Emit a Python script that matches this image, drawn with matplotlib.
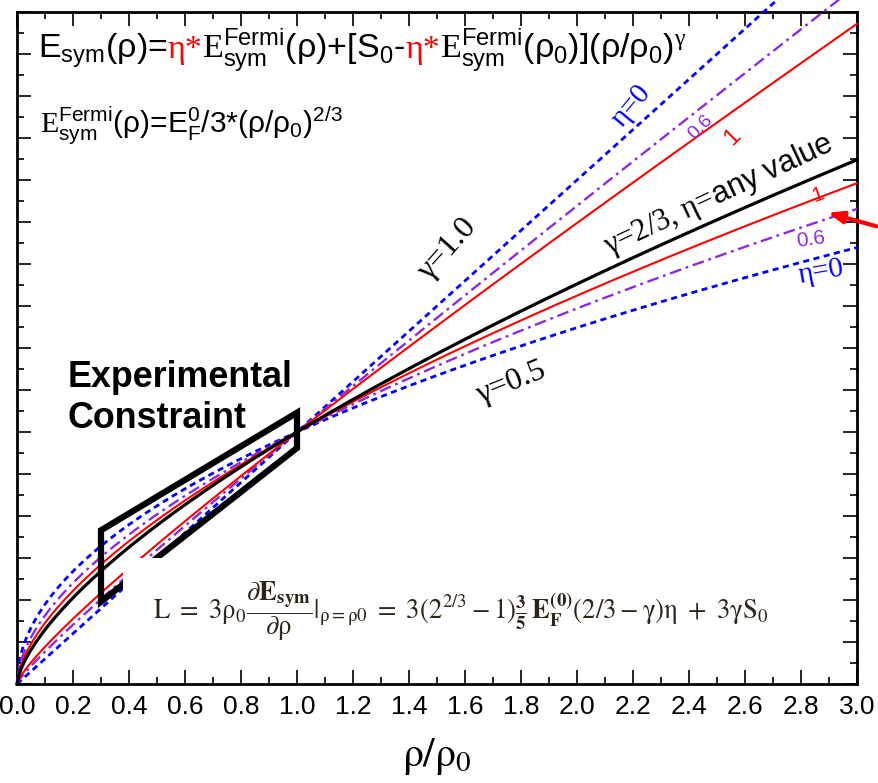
import numpy as np
import matplotlib
matplotlib.use('Agg')
import matplotlib.pyplot as plt
from matplotlib.ticker import MultipleLocator, FormatStrFormatter
from matplotlib.patches import Polygon, Rectangle

plt.rcParams['font.family'] = ['Liberation Sans', 'DejaVu Sans']
plt.rcParams['mathtext.fontset'] = 'custom'
plt.rcParams['mathtext.rm'] = 'Liberation Sans'
plt.rcParams['mathtext.it'] = 'Liberation Sans:italic'
plt.rcParams['mathtext.bf'] = 'Liberation Sans:bold'
plt.rcParams['mathtext.sf'] = 'Liberation Serif'

# symmetry energy model parameters (MeV)
S0 = 30.0
gammas = [1.0, 0.5]
fermi_strength = [12.4, 22.0]     # eta*E_F/3 amplitude used for each gamma family
etas = [0.0, 0.6, 1.0]
eta_colors = ['#0000ff', '#8a2be2', '#ff0000']
eta_styles = [(0, (2.2, 1.6)), (0, (5, 2, 1.2, 2)), '-']
eta_widths = [2.0, 1.7, 1.5]
gamma_ref = 2.0 / 3.0

# experimental constraint region (rho/rho0, MeV)
box_x = [0.3, 1.0, 1.0, 0.3]
box_y = [18.3, 32.3, 28.1, 9.8]

u = np.linspace(0.0, 3.0, 400)


def esym(u, gamma, eta, fs):
    return eta * fs * u ** (2.0 / 3.0) + (S0 - eta * fs) * u ** gamma


fig = plt.figure(figsize=(8.79, 7.83), dpi=100)
ax = fig.add_axes([17 / 879, 99 / 783, 840 / 879, 672 / 783])

for gamma, fs in zip(gammas, fermi_strength):
    for eta, c, ls, lw in zip(etas, eta_colors, eta_styles, eta_widths):
        ax.plot(u, esym(u, gamma, eta, fs), color=c, ls=ls, lw=lw, clip_on=False, zorder=3)
ax.plot(u, S0 * u ** gamma_ref, color='black', lw=2.3, clip_on=False, zorder=4)

ax.add_patch(Polygon(np.column_stack([box_x, box_y]), closed=True, fill=False,
                     ec='black', lw=4.5, joinstyle='miter', zorder=5))

ax.set_xlim(0, 3)
ax.set_ylim(0, 80)
ax.xaxis.set_major_locator(MultipleLocator(0.2))
ax.xaxis.set_minor_locator(MultipleLocator(0.1))
ax.xaxis.set_major_formatter(FormatStrFormatter('%.1f'))
ax.yaxis.set_major_locator(MultipleLocator(5))
ax.yaxis.set_minor_locator(MultipleLocator(2.5))
ax.tick_params(which='both', direction='in', top=True, right=True, width=1.2,
               labelleft=False, labelsize=19, pad=8)
ax.tick_params(which='major', length=10)
ax.tick_params(which='minor', length=5)
for sp in ax.spines.values():
    sp.set_linewidth(2)
ax.set_xlabel(r'$\mathrm{\rho/\rho_0}$', fontsize=30, math_fontfamily='stix', labelpad=12)

# curve labels
serif = 'Liberation Serif'
ax.text(1.539, 51.7, 'γ=1.0', family=serif, fontsize=23, rotation=48, ha='center', va='center')
ax.text(1.764, 35.8, 'γ=0.5', family=serif, fontsize=23, rotation=22, ha='center', va='center')
ax.text(2.507, 58.2, r'γ=2/3, η=$\mathrm{any\ value}$', family=serif, fontsize=22, rotation=25,
        ha='center', va='center', rotation_mode='anchor')
ax.text(2.196, 68.8, 'η=0', family=serif, color='#0000ff', fontsize=21, rotation=50, ha='center', va='center')
ax.text(2.44, 66.3, '0.6', color='#8a2be2', fontsize=14, rotation=45, ha='center', va='center')
ax.text(2.557, 65.1, '1', color='#ff0000', fontsize=17, rotation=45, ha='center', va='center')
ax.text(2.861, 58.2, '1', color='#ff0000', fontsize=15, rotation=20, ha='center', va='center')
ax.text(2.836, 52.9, '0.6', color='#8a2be2', fontsize=15, rotation=8, ha='center', va='center')
ax.text(2.871, 49.0, 'η=0', family=serif, color='#0000ff', fontsize=21, rotation=10, ha='center', va='center')
ax.annotate('', xy=(2.886, 56.2), xytext=(3.079, 54.4), annotation_clip=False,
            arrowprops=dict(arrowstyle='-|>,head_length=0.9,head_width=0.35', color='#ff0000', lw=3))

ax.text(0.182, 35.4, 'Experimental', fontsize=25.8, fontweight='bold', va='baseline')
ax.text(0.182, 30.5, 'Constraint', fontsize=25.8, fontweight='bold', va='baseline')

# slope parameter expression on a white backdrop
ax.add_patch(Rectangle((0.379, 4.0), 2.55, 11.0, fc='white', ec='none', zorder=6))
ax.text(0.486, 8.6,
        r'$\mathrm{L\ =\ 3\rho_0}\dfrac{\partial\mathbf{E_{sym}}}{\partial\mathrm{\rho}}|_{\mathrm{\rho=\rho0}}'
        r'\mathrm{\ =\ 3(2^{2/3}-1)}\frac{\mathbf{3}}{\mathbf{5}}\,\mathbf{E_F^{(0)}}\mathrm{(2/3-\gamma)\eta\ +\ 3\gamma S_0}$',
        fontsize=19.3, color='#2e2418', math_fontfamily='stix', va='center', zorder=7)

# formulas at the top, drawn piece by piece so parts can be coloured
renderer = fig.canvas.get_renderer()


def piecewise_text(x, y, pieces, size):
    for s, color, fam in pieces:
        t = fig.text(x, y, s, color=color, family=fam, fontsize=size, va='baseline')
        bb = t.get_window_extent(renderer)
        x = fig.transFigure.inverted().transform((bb.x1, bb.y0))[0]


sans = 'Liberation Sans'
line1 = [
    (r'E$_{\mathrm{sym}}$(ρ)=', 'black', sans),
    ('η*', 'red', serif),
    (r'$\mathsf{E}^{\mathrm{Fermi}}_{\mathrm{sym}}$(ρ)+[S$_0$-', 'black', sans),
    ('η*', 'red', serif),
    (r'$\mathsf{E}^{\mathrm{Fermi}}_{\mathrm{sym}}$(ρ$_0$)](ρ/ρ$_0$)$^{\mathsf{\gamma}}$', 'black', sans),
]
line2 = [
    (r'$\mathsf{E}^{\mathrm{Fermi}}_{\mathrm{sym}}$(ρ)=E$^0_{\mathrm{F}}$/3*(ρ/ρ$_0$)$^{2/3}$', 'black', sans),
]
piecewise_text(38 / 879, 1 - 58 / 783, line1, 24.5)
piecewise_text(40 / 879, 1 - 133 / 783, line2, 21.5)

fig.savefig('out.png', dpi=100)
